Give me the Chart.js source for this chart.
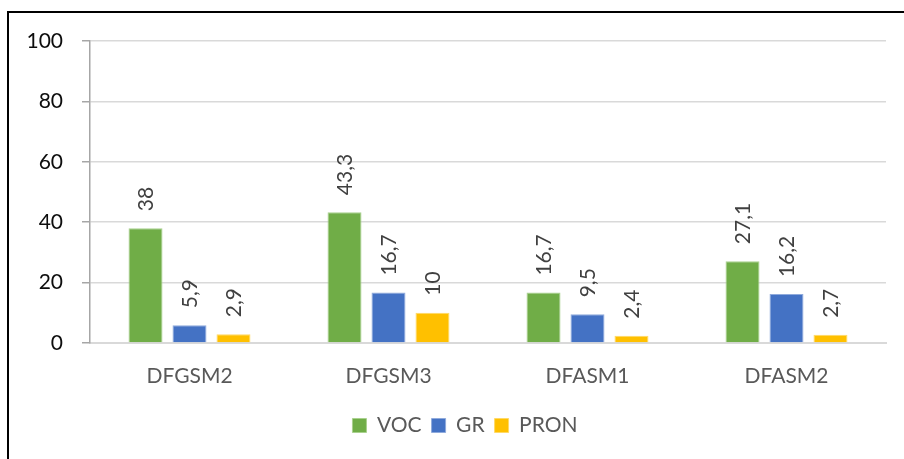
<!DOCTYPE html>
<html>
<head>
<meta charset="utf-8">
<script src="https://cdn.jsdelivr.net/npm/chart.js@4.4.1/dist/chart.umd.min.js"></script>
<style>
    html, body { margin: 0; padding: 0; background: #fff; overflow: hidden; }
    #frame {
        position: absolute; left: 7px; top: 11px; width: 1000px; height: 1000px;
        border-left: 2px solid #000; border-top: 2px solid #000;
    }
    #wrap { position: absolute; left: 0; top: 0; width: 904px; height: 459px; }
</style>
</head>
<body>
<div id="frame"></div>
<div id="wrap"><canvas id="chart" width="904" height="459"></canvas></div>
<script>
    // Data
    const categories = ['DFGSM2', 'DFGSM3', 'DFASM1', 'DFASM2'];
    const vocValues = [38, 43.3, 16.7, 27.1];
    const grValues = [5.9, 16.7, 9.5, 16.2];
    const pronValues = [2.9, 10, 2.4, 2.7];
    const yTicks = [0, 20, 40, 60, 80, 100];

    const FONT = 'Lato, "Open Sans", sans-serif';

    // Rotated value labels above each bar, decimal comma
    const barLabels = {
        id: 'barLabels',
        afterLayout(chart) {
            // nudge the legend a bit right, like the original
            chart.legend.left += 22;
            chart.legend.right += 22;
        },
        afterDatasetsDraw(chart) {
            const ctx = chart.ctx;
            ctx.save();
            ctx.font = '21px ' + FONT;
            ctx.fillStyle = '#404040';
            ctx.textAlign = 'left';
            ctx.textBaseline = 'middle';
            chart.data.datasets.forEach((ds, i) => {
                chart.getDatasetMeta(i).data.forEach((bar, j) => {
                    const text = String(ds.data[j]).replace('.', ',');
                    ctx.save();
                    ctx.translate(bar.x + 1, bar.y - 17);
                    ctx.rotate(-Math.PI / 2);
                    ctx.fillText(text, 0, 0);
                    ctx.restore();
                });
            });
            ctx.restore();
        }
    };

    const barStyle = { categoryPercentage: 0.663, barPercentage: 0.773, borderWidth: 1 };

    new Chart(document.getElementById('chart'), {
        type: 'bar',
        data: {
            labels: categories,
            datasets: [
                { label: 'VOC', data: vocValues, backgroundColor: '#70AD47', borderColor: '#A9D18E', ...barStyle },
                { label: 'GR', data: grValues, backgroundColor: '#4472C4', borderColor: '#8FAADC', ...barStyle },
                { label: 'PRON', data: pronValues, backgroundColor: '#FFC000', borderColor: '#FFD966', ...barStyle }
            ]
        },
        options: {
            responsive: false,
            animation: false,
            layout: { padding: { top: 41, right: 18, left: 0, bottom: 13 } },
            plugins: {
                legend: {
                    position: 'bottom',
                    labels: {
                        boxWidth: 14, boxHeight: 14, padding: 10,
                        color: '#595959', font: { family: FONT, size: 21 }
                    }
                },
                tooltip: { enabled: false }
            },
            scales: {
                x: {
                    grid: { display: false, drawTicks: false },
                    border: { color: '#D9D9D9', width: 2 },
                    ticks: { color: '#595959', padding: 21, font: { family: FONT, size: 21 } },
                    afterFit: scale => { scale.height = 62; }
                },
                y: {
                    min: 0, max: 100,
                    afterBuildTicks: scale => { scale.ticks = yTicks.map(v => ({ value: v })); },
                    grid: { color: '#D9D9D9', lineWidth: 1.5, tickColor: '#A6A6A6', tickLength: 8 },
                    border: { color: '#A6A6A6', width: 1.5 },
                    ticks: { color: '#0d0d0d', padding: 19, font: { family: FONT, size: 21 } },
                    afterFit: scale => { scale.width = 90; }
                }
            }
        },
        plugins: [barLabels]
    });
</script>
</body>
</html>
